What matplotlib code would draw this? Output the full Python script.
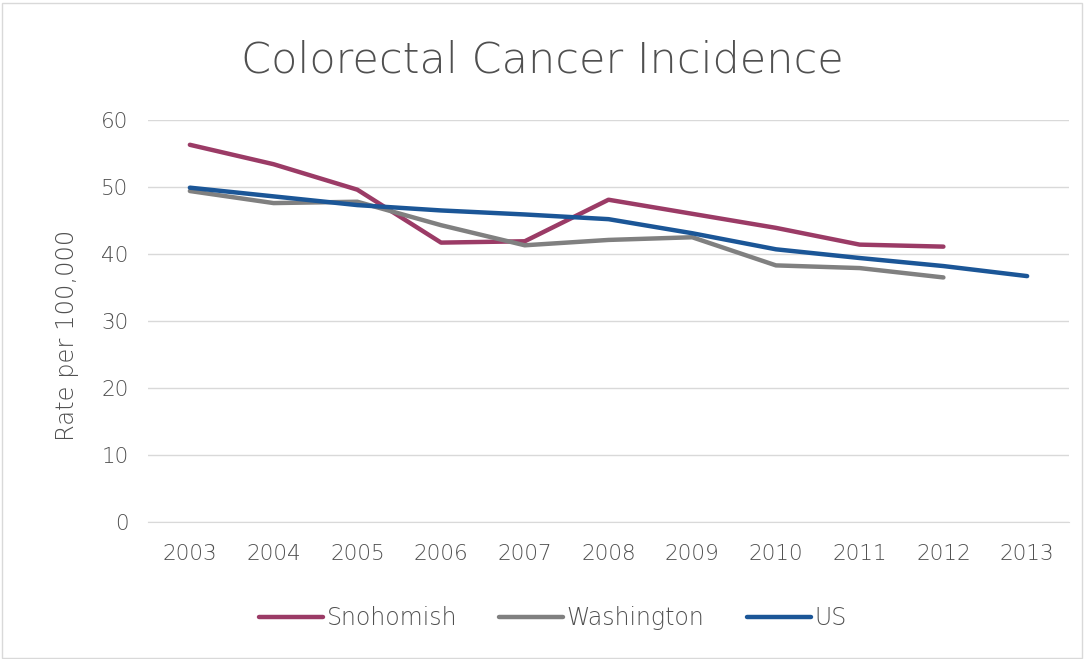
import matplotlib
matplotlib.use("Agg")
import matplotlib.pyplot as plt
from matplotlib.patches import Rectangle

years = ["2003", "2004", "2005", "2006", "2007", "2008", "2009", "2010", "2011", "2012", "2013"]
snohomish = [56.3, 53.4, 49.6, 41.7, 41.9, 48.1, 46.0, 43.9, 41.4, 41.1]
washington = [49.4, 47.6, 47.8, 44.3, 41.3, 42.1, 42.5, 38.3, 37.9, 36.5]
us = [49.9, 48.6, 47.3, 46.5, 45.9, 45.2, 43.1, 40.7, 39.4, 38.2, 36.7]
yticks = [0, 10, 20, 30, 40, 50, 60]

plt.rcParams['font.family'] = ['DejaVu Sans']
plt.rcParams['font.weight'] = 'light'
plt.rcParams['axes.labelweight'] = 'light'
txt = '#505050'

fig = plt.figure(figsize=(10.84, 6.59), dpi=100)
fig.patches.append(Rectangle((0.002, 0.002), 0.996, 0.994, transform=fig.transFigure,
                             fill=False, edgecolor='#d9d9d9', linewidth=1))
ax = fig.add_axes([148/1084, 1 - 522/659, (1069-148)/1084, (522-120)/659])

x = list(range(len(years)))
ax.plot(x[:len(snohomish)], snohomish, color='#9b3b66', lw=3.2, label='Snohomish', solid_capstyle='round')
ax.plot(x[:len(washington)], washington, color='#808080', lw=3.2, label='Washington', solid_capstyle='round')
ax.plot(x[:len(us)], us, color='#1b5697', lw=3.2, label='US', solid_capstyle='round')

ax.set_xlim(-0.5, len(years) - 0.5)
ax.set_ylim(0, 60)
ax.set_yticks(yticks)
ax.set_xticks(x)
ax.set_xticklabels(years)
ax.grid(axis='y', color='#d9d9d9', lw=1)
ax.set_axisbelow(True)
for s in ['top', 'right', 'left']:
    ax.spines[s].set_visible(False)
ax.spines['bottom'].set_color('#d9d9d9')
ax.tick_params(axis='both', length=0, labelsize=15.5, labelcolor=txt, pad=14)
ax.tick_params(axis='x', pad=16)
ax.set_ylabel('Rate per 100,000', fontsize=17.5, color=txt, fontweight='light')
ax.yaxis.set_label_coords(-0.075, 0.465)

fig.text(0.5, 1 - 60/659, 'Colorectal Cancer Incidence', ha='center', va='center',
         fontsize=31, color=txt, fontweight='light')

leg = fig.legend(loc='center', bbox_to_anchor=(0.51, 1 - 618/659), ncol=3, frameon=False,
                 fontsize=17, handlelength=2.7, handletextpad=0.15, columnspacing=1.8)
for t in leg.get_texts():
    t.set_color(txt)

fig.savefig('out.png', dpi=100)
